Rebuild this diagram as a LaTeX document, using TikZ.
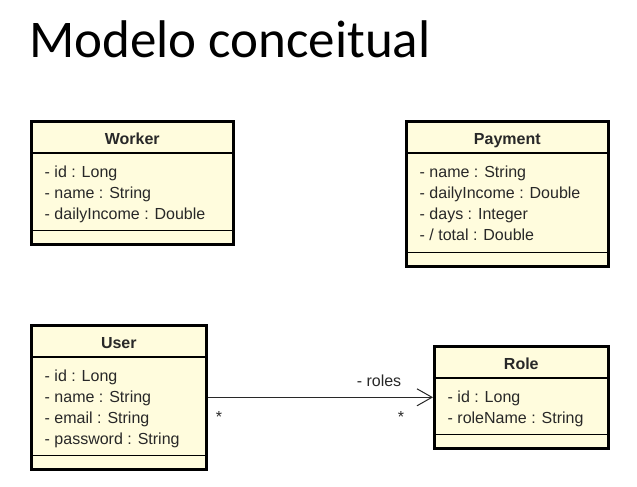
\documentclass[tikz,border=0pt]{standalone}
\usepackage{fontspec}
\setmainfont{Liberation Sans}
\newfontfamily\titlefont{Carlito}
\usetikzlibrary{arrows.meta}
\definecolor{umlfill}{RGB}{255,252,221}
\definecolor{inkgray}{RGB}{40,40,40}
\begin{document}
\begin{tikzpicture}[x=1pt,y=-1pt,
  classbox/.style={draw=black, line width=2.6pt, fill=umlfill, inner sep=0pt, anchor=north west},
  divider/.style={draw=black, line width=1.2pt},
  classname/.style={anchor=base, inner sep=0pt, text=inkgray, font=\fontsize{16}{19}\selectfont\bfseries},
  attr/.style={anchor=base west, inner sep=0pt, text=inkgray, font=\fontsize{16}{19}\selectfont},
  lbl/.style={anchor=base, inner sep=0pt, text=inkgray, font=\fontsize{16}{19}\selectfont},
  assoc/.style={draw=inkgray, line width=1pt, -{Straight Barb[length=15pt,width=17pt,line width=1pt]}}]

% page and margins
\fill[white] (0,0) rectangle (637,487);
\useasboundingbox (0,0) rectangle (637,487);

% heading
\node[anchor=base west, inner sep=0pt, font=\titlefont\fontsize{53}{60}\selectfont] (title) at (29,58) {Modelo conceitual};

% class boxes: name compartment, attribute compartment, empty operation compartment
\node[classbox, minimum width=202pt, minimum height=123pt] (worker)  at (30,120) {};
\node[classbox, minimum width=202pt, minimum height=145pt] (payment) at (405,120) {};
\node[classbox, minimum width=175pt, minimum height=144pt] (user)    at (30,324) {};
\node[classbox, minimum width=174pt, minimum height=102pt] (role)    at (433,345) {};

\foreach \c in {worker,payment,user,role}{
  \draw[divider] ([yshift=-33pt]\c.north west) -- ([yshift=-33pt]\c.north east);
  \draw[divider] ([yshift=15pt]\c.south west) -- ([yshift=15pt]\c.south east);
}

\node[classname] (worker-name)  at ([yshift=-24pt]worker.north)  {Worker};
\node[classname] (payment-name) at ([yshift=-24pt]payment.north) {Payment};
\node[classname] (user-name)    at ([yshift=-24pt]user.north)    {User};
\node[classname] (role-name)    at ([yshift=-24pt]role.north)    {Role};

\foreach \t [count=\i from 0] in {- id : Long, - name : String, - dailyIncome : Double}
  \node[attr] (worker-a\i) at ([xshift=14.5pt,yshift={-57pt-21pt*\i}]worker.north west) {\t};
\foreach \t [count=\i from 0] in {- name : String, - dailyIncome : Double, - days : Integer, - / total : Double}
  \node[attr] (payment-a\i) at ([xshift=14.5pt,yshift={-57pt-21pt*\i}]payment.north west) {\t};
\foreach \t [count=\i from 0] in {- id : Long, - name : String, - email : String, - password : String}
  \node[attr] (user-a\i) at ([xshift=14.5pt,yshift={-57pt-21pt*\i}]user.north west) {\t};
\foreach \t [count=\i from 0] in {- id : Long, - roleName : String}
  \node[attr] (role-a\i) at ([xshift=14.5pt,yshift={-57pt-21pt*\i}]role.north west) {\t};

% association User -> Role
\draw[assoc] (user.east) -- (role.west);
\node[lbl] (roles-label) at (379,386) {- roles};
\node[lbl] (user-mult)   at (219,422) {*};
\node[lbl] (role-mult)   at (401,422) {*};
\end{tikzpicture}
\end{document}
